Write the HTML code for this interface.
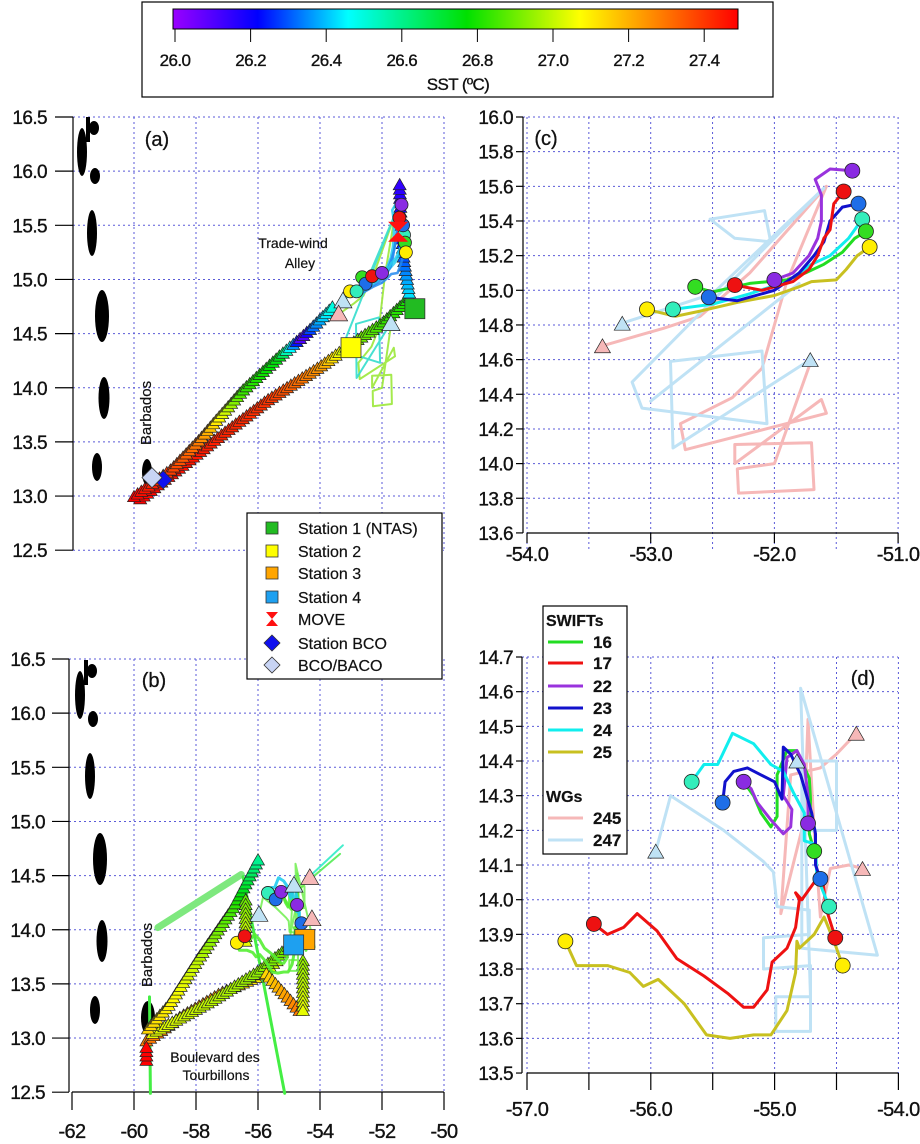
<!DOCTYPE html>
<html><head><meta charset="utf-8">
<style>
html,body{margin:0;padding:0;background:#fff;}
svg{display:block;font-family:"Liberation Sans",Arial,sans-serif;}
.tk{font-size:19px;fill:#111;letter-spacing:-0.6px;stroke:#111;stroke-width:0.35px;}
.lbl{font-size:14px;fill:#111;stroke:#111;stroke-width:0.2px;}
.pl{font-size:20px;fill:#111;stroke:#111;stroke-width:0.3px;}
.lg{font-size:16px;fill:#111;stroke:#111;stroke-width:0.2px;}
</style></head>
<body>
<svg id="fig" width="920" height="1144" viewBox="0 0 920 1144" xmlns="http://www.w3.org/2000/svg">
<defs>
<linearGradient id="sstgrad" x1="0" x2="1" y1="0" y2="0">
<stop offset="0" stop-color="#9a00ff"/><stop offset="0.15" stop-color="#0000ff"/>
<stop offset="0.31" stop-color="#00ffff"/><stop offset="0.52" stop-color="#00e000"/>
<stop offset="0.72" stop-color="#ffff00"/><stop offset="0.86" stop-color="#ff8000"/>
<stop offset="1" stop-color="#ff0000"/>
</linearGradient>
<g id="islands">
<path d="M88,117 L88,142" stroke="#000" stroke-width="4" fill="none"/>
<ellipse cx="82" cy="152" rx="5" ry="24"/>
<ellipse cx="94" cy="128" rx="5" ry="7"/>
<ellipse cx="95" cy="176" rx="5" ry="8"/>
<ellipse cx="92" cy="233" rx="5" ry="23"/>
<ellipse cx="102" cy="316" rx="7" ry="26"/>
<ellipse cx="104" cy="398" rx="5.5" ry="21"/>
<ellipse cx="97" cy="467" rx="5" ry="14"/>
</g>
</defs>
<g id="root"></g>
</svg>
<script>
// ---------- data ----------
const sstTicks = [26.0,26.2,26.4,26.6,26.8,27.0,27.2,27.4];
const latTicksAB = [16.5,16.0,15.5,15.0,14.5,14.0,13.5,13.0,12.5];
const lonTicksAB = [-62,-60,-58,-56,-54,-52,-50];
const latTicksC = [16.0,15.8,15.6,15.4,15.2,15.0,14.8,14.6,14.4,14.2,14.0,13.8,13.6];
const lonTicksC = [-54.0,-53.0,-52.0,-51.0];
const latTicksD = [14.7,14.6,14.5,14.4,14.3,14.2,14.1,14.0,13.9,13.8,13.7,13.6,13.5];
const lonTicksD = [-57.0,-56.0,-55.0,-54.0];

const trkA1Lon = [-60.0,-58.8,-57.9,-57.3,-56.5,-55.3,-54.8,-54.6,-54.3,-53.6];
const trkA1Lat = [13.0,13.25,13.52,13.72,13.98,14.3,14.42,14.47,14.55,14.75];
const trkA1Sst = [27.5,27.4,27.3,27.1,26.85,26.75,26.3,26.05,26.3,26.5];
const trkA2Lon = [-59.8,-57.5,-55.7,-54.0,-53.0,-52.0,-51.1];
const trkA2Lat = [12.98,13.5,13.89,14.2,14.41,14.6,14.84];
const trkA2Sst = [27.5,27.45,27.42,27.25,26.95,26.85,26.8];
const trkA3Lon = [-51.1,-51.3,-51.4,-51.43];
const trkA3Lat = [14.84,15.2,15.6,15.88];
const trkA3Sst = [26.45,26.3,26.2,26.15];
const trkB1Lon = [-59.55,-58.9,-57.9,-56.8,-56.0];
const trkB1Lat = [13.09,13.3,13.75,14.21,14.65];
const trkB1Sst = [27.15,27.1,27.0,26.85,26.6];
const trkB2Lon = [-59.6,-58.5,-57.2,-56.05,-55.4];
const trkB2Lat = [12.98,13.2,13.42,13.57,13.72];
const trkB2Sst = [27.3,27.3,27.25,27.1,27.0];
const trkB3Lon = [-59.4,-57.5,-56.0,-55.0];
const trkB3Lat = [13.05,13.35,13.62,13.85];
const trkB3Sst = [27.05,27.0,26.95,26.9];
const trkB4Lon = [-55.73,-54.66];
const trkB4Lat = [13.6,13.26];
const trkB4Sst = [27.15,27.3];
const trkB5Lon = [-54.55,-54.55];
const trkB5Lat = [13.72,13.26];
const trkB5Sst = [26.95,27.05];
const trkB6Lon = [-56.4,-56.4];
const trkB6Lat = [14.28,13.9];
const trkB6Sst = [26.9,27.05];
const trkB7Lon = [-59.6,-59.6];
const trkB7Lat = [12.8,12.92];
const trkB7Sst = [27.5,27.5];

const c16 = [[-52.64,15.02],[-52.5,14.99],[-52.2,15.04],[-51.9,15.06],[-51.75,15.1],[-51.6,15.15],[-51.45,15.22],[-51.35,15.3],[-51.26,15.34]];
const c17 = [[-52.32,15.03],[-52.1,15.0],[-51.85,15.05],[-51.72,15.12],[-51.65,15.2],[-51.6,15.3],[-51.55,15.35],[-51.52,15.5],[-51.44,15.57]];
const c22 = [[-52.0,15.06],[-51.85,15.1],[-51.72,15.2],[-51.65,15.3],[-51.62,15.4],[-51.62,15.55],[-51.67,15.64],[-51.55,15.7],[-51.37,15.69]];
const c23 = [[-52.53,14.96],[-52.3,14.94],[-52.0,15.0],[-51.8,15.1],[-51.68,15.2],[-51.6,15.28],[-51.55,15.4],[-51.45,15.48],[-51.32,15.5]];
const c24 = [[-52.82,14.89],[-52.5,14.92],[-52.2,14.98],[-51.9,15.05],[-51.7,15.15],[-51.55,15.2],[-51.4,15.3],[-51.29,15.41]];
const c25 = [[-53.03,14.89],[-52.8,14.85],[-52.6,14.88],[-52.3,14.93],[-52.0,14.97],[-51.8,15.02],[-51.7,15.05],[-51.5,15.06],[-51.42,15.12],[-51.33,15.2],[-51.23,15.25]];
const c245 = [[-53.39,14.68],[-52.9,14.78],[-52.6,14.85],[-52.2,15.1],[-51.58,15.6],[-51.9,15.05],[-52.1,14.55],[-52.34,14.38],[-52.76,14.23],[-52.72,14.08],[-51.58,14.29],[-51.62,14.37],[-52.32,14.0],[-52.32,14.11],[-51.70,14.12],[-51.68,13.85],[-52.29,13.83],[-52.30,13.97],[-52.0,14.0],[-51.71,14.58]];
const c247 = [[-53.23,14.81],[-52.5,14.98],[-51.6,15.59],[-53.15,14.47],[-53.07,14.32],[-52.06,14.23],[-52.10,14.65],[-52.84,14.59],[-52.82,14.09],[-51.71,14.6]];
const c247b = [[-53.0,14.36],[-51.8,15.04]];
const c247q = [[-52.52,15.41],[-52.08,15.46],[-52.03,15.28],[-52.32,15.30],[-52.52,15.41]];
const d16 = [[-55.25,14.34],[-55.17,14.3],[-55.11,14.25],[-55.03,14.21],[-54.98,14.24],[-54.98,14.36],[-54.9,14.43],[-54.82,14.43],[-54.72,14.35],[-54.71,14.29],[-54.72,14.19],[-54.68,14.14]];
const d17 = [[-56.46,13.93],[-56.35,13.9],[-56.22,13.92],[-56.11,13.96],[-55.95,13.91],[-55.79,13.83],[-55.57,13.78],[-55.38,13.73],[-55.25,13.69],[-55.17,13.69],[-55.06,13.74],[-55.02,13.82],[-54.9,13.86],[-54.83,13.92],[-54.8,14.0],[-54.83,14.02],[-54.78,14.0],[-54.66,14.06],[-54.61,14.05],[-54.58,13.97],[-54.51,13.89]];
const d22 = [[-55.25,14.34],[-55.19,14.32],[-55.14,14.28],[-55.03,14.23],[-54.93,14.19],[-54.87,14.21],[-54.86,14.26],[-54.93,14.3],[-54.9,14.41],[-54.82,14.43],[-54.76,14.39],[-54.73,14.3],[-54.73,14.22]];
const d23 = [[-55.42,14.28],[-55.40,14.34],[-55.33,14.37],[-55.22,14.38],[-55.11,14.36],[-55.0,14.34],[-54.94,14.29],[-54.93,14.44],[-54.87,14.42],[-54.79,14.36],[-54.7,14.25],[-54.67,14.19],[-54.67,14.1],[-54.63,14.06]];
const d24 = [[-55.67,14.34],[-55.57,14.39],[-55.46,14.39],[-55.34,14.48],[-55.17,14.45],[-55.03,14.39],[-54.93,14.37],[-54.85,14.31],[-54.76,14.25],[-54.76,14.17],[-54.67,14.16],[-54.66,14.07],[-54.56,13.98]];
const d25 = [[-56.69,13.88],[-56.6,13.81],[-56.45,13.81],[-56.35,13.81],[-56.17,13.79],[-56.06,13.75],[-55.94,13.77],[-55.73,13.70],[-55.55,13.61],[-55.36,13.60],[-55.17,13.61],[-55.03,13.61],[-54.9,13.68],[-54.83,13.79],[-54.82,13.88],[-54.8,13.86],[-54.68,13.9],[-54.6,13.95],[-54.52,13.88],[-54.45,13.81]];
const d245 = [[-54.34,14.48],[-54.5,14.42],[-54.63,14.38],[-54.87,14.36],[-54.95,13.96],[-54.76,14.23],[-54.73,14.52],[-54.68,14.2],[-54.63,13.95],[-54.55,14.09],[-54.4,14.1],[-54.29,14.09]];
const d247 = [[-55.96,14.14],[-55.84,14.30],[-55.41,14.20],[-55.09,14.11],[-55.01,14.08],[-54.98,13.98],[-54.72,13.97],[-54.72,13.90],[-55.09,13.89],[-55.09,13.80],[-54.71,13.81],[-54.71,13.62],[-54.99,13.62],[-54.99,13.72],[-54.71,13.72],[-54.79,14.61],[-54.17,13.84],[-54.78,13.86],[-54.78,14.4],[-54.5,14.4],[-54.5,14.2],[-54.78,14.2]];

const stationLon = [-50.94,-53.0];
const stationLat = [14.73,14.37];
const stationB_Lon = [-54.49,-54.85];
const stationB_Lat = [13.91,13.86];

// ---------- helpers ----------
const NS='http://www.w3.org/2000/svg';
const root=document.getElementById('root');
function el(tag,attrs,parent){const e=document.createElementNS(NS,tag);for(const k in attrs)e.setAttribute(k,attrs[k]);(parent||root).appendChild(e);return e;}
function txt(x,y,s,cls,anchor,parent){const t=el('text',{x:x,y:y,class:cls,'text-anchor':anchor||'start'},parent);t.textContent=s;return t;}
const stops=[[26.0,[154,0,255]],[26.22,[0,0,255]],[26.46,[0,255,255]],[26.78,[0,224,0]],[27.08,[255,255,0]],[27.29,[255,128,0]],[27.5,[255,0,0]]];
function cmap(v){if(v<=stops[0][0])return 'rgb('+stops[0][1]+')';for(let i=1;i<stops.length;i++){if(v<=stops[i][0]){const a=stops[i-1],b=stops[i],f=(v-a[0])/(b[0]-a[0]);const c=a[1].map((q,j)=>Math.round(q+(b[1][j]-q)*f));return 'rgb('+c+')';}}return 'rgb(255,0,0)';}

const XA=lon=>134+(lon+60)*31, YA=lat=>117+(16.5-lat)*108.3, YB=lat=>659+(16.5-lat)*108.3;
const XC=lon=>527+(lon+54)*123.7, YC=lat=>117+(16-lat)*173.3;
const XD=lon=>527+(lon+57)*123.8, YD=lat=>657+(14.7-lat)*346.7;

function pathD(pts,X,Y){return pts.map((p,i)=>(i?'L':'M')+X(p[0]).toFixed(1)+','+Y(p[1]).toFixed(1)).join(' ');}
function line(pts,X,Y,color,w,g,name,op){const p=el('path',{d:pathD(pts,X,Y),fill:'none',stroke:color,'stroke-width':w,'stroke-linejoin':'round','stroke-linecap':'round',opacity:op||1},g);


return p;}
function tri(x,y,s,fill,g,name){const h=s*0.87;const p=el('polygon',{points:(x-s/2)+','+(y+h/2)+' '+(x+s/2)+','+(y+h/2)+' '+x+','+(y-h/2),fill:fill,stroke:'#222','stroke-width':0.7},g);


return p;}
function circ(x,y,r,fill,g,name){const c=el('circle',{cx:x,cy:y,r:r,fill:fill,stroke:'#222','stroke-width':0.8},g);


return c;}
function sq(x,y,s,fill,g,name){const r=el('rect',{x:x-s/2,y:y-s/2,width:s,height:s,fill:fill,stroke:'#333','stroke-width':0.8},g);


return r;}
function diamond(x,y,s,fill,g,name){const p=el('polygon',{points:x+','+(y-s)+' '+(x+s)+','+y+' '+x+','+(y+s)+' '+(x-s)+','+y,fill:fill,stroke:'#333','stroke-width':0.8},g);


return p;}
function shipTrack(lons,lats,ssts,X,Y,g,name){
 const px=lons.map((l,i)=>[X(l),Y(lats[i])]);
 let segs=[],tot=0;for(let i=1;i<px.length;i++){const d=Math.hypot(px[i][0]-px[i-1][0],px[i][1]-px[i-1][1]);segs.push(d);tot+=d;}
 const n=Math.max(2,Math.round(tot/4.5));
 for(let k=0;k<=n;k++){let t=tot*k/n,i=0;while(i<segs.length-1&&t>segs[i]){t-=segs[i];i++;}const f=segs[i]?Math.min(1,t/segs[i]):0;
  const x=px[i][0]+(px[i+1][0]-px[i][0])*f,y=px[i][1]+(px[i+1][1]-px[i][1])*f,s=ssts[i]+(ssts[i+1]-ssts[i])*f;
  tri(x,y,13,cmap(s),g,name+'-marker');}
}
function grid(xs,ys,x0,x1,y0,y1,g){
 xs.forEach(x=>el('line',{x1:x,x2:x,y1:y0,y2:y1,stroke:'#5a5ad8','stroke-width':1,'stroke-dasharray':'2,3'},g));
 ys.forEach(y=>el('line',{x1:x0,x2:x1,y1:y,y2:y,stroke:'#5a5ad8','stroke-width':1,'stroke-dasharray':'2,3'},g));
}
const SW={16:'#22dd22',17:'#ee1111',22:'#9933dd',23:'#1111cc',24:'#11eeee',25:'#c8c020'};
const CF={p:'#8a2be2',r:'#ee1111',b:'#1e6ee8',t:'#33eebb',g:'#33dd22',y:'#ffee00'};
const PINK='#f6b8b8', LBLUE='#bfe2f5';

// ---------- colorbar ----------
const cb=el('g',{});


el('rect',{x:142,y:2,width:631,height:95,fill:'#fff',stroke:'#000','stroke-width':1.2},cb);
el('rect',{x:173,y:9,width:565,height:20,fill:'url(#sstgrad)',stroke:'#000','stroke-width':1},cb);
sstTicks.forEach(v=>{const x=175+(v-26)/0.2*75.6;el('line',{x1:x,x2:x,y1:29,y2:42,stroke:'#000','stroke-width':1},cb);txt(x,66,v.toFixed(1),'tk','middle',cb).setAttribute('style','font-size:17px');});
txt(458,90,'SST (ºC)','tk','middle',cb).setAttribute('style','font-size:17px');

// ---------- panel a ----------
const ga=el('g',{});


grid(lonTicksAB.slice(1).map(XA),latTicksAB.map(YA),73,444,117,552,ga);
el('use',{href:'#islands'},ga);
el('ellipse',{cx:147,cy:472,rx:5,ry:13,fill:'#000'},ga);
el('line',{x1:73,x2:73,y1:117,y2:550,stroke:'#000','stroke-width':1.2},ga);
latTicksAB.forEach(v=>{const y=YA(v);el('line',{x1:55,x2:73,y1:y,y2:y,stroke:'#000','stroke-width':1.2},ga);txt(47,y+7,v.toFixed(1),'tk','end',ga);});
line(c245,XA,YA,'#9be83a',2,ga,'wg245-track-a',0.9);
line(c247,XA,YA,'#33ddcc',2,ga,'wg247-track-a',0.9);
shipTrack(trkA2Lon,trkA2Lat,trkA2Sst,XA,YA,ga,'ship-track-lower');
shipTrack(trkA1Lon,trkA1Lat,trkA1Sst,XA,YA,ga,'ship-track-upper');
shipTrack(trkA3Lon,trkA3Lat,trkA3Sst,XA,YA,ga,'ship-track-north');
[c16,c17,c22,c23,c24,c25].forEach((t,i)=>line(t,XA,YA,i%2?'#2288ee':'#22ccee',2.5,ga,'swift-track-a',0.85));
[[-52.64,15.02,'g'],[-52.53,14.96,'b'],[-52.32,15.03,'r'],[-52.0,15.06,'p'],[-53.03,14.89,'y'],[-52.82,14.89,'t'],[-51.29,15.41,'t'],[-51.26,15.34,'g'],[-51.23,15.25,'y'],[-51.32,15.5,'b'],[-51.44,15.57,'r'],[-51.37,15.69,'p']].forEach(c=>circ(XA(c[0]),YA(c[1]),6.5,CF[c[2]],ga,'swift-position'));
(function(){const x=XA(-51.48),y=YA(15.44);const p=el('polygon',{points:(x-10)+','+(y-10)+' '+(x+10)+','+(y-10)+' '+(x-10)+','+(y+10)+' '+(x+10)+','+(y+10),fill:'#ff1010'},ga);

})();
tri(XA(-53.26),YA(14.81),18,LBLUE,ga,'wg247-start');
tri(XA(-53.4),YA(14.69),18,PINK,ga,'wg245-start');
tri(XA(-51.71),YA(14.6),18,LBLUE,ga,'wg247-end');
sq(XA(stationLon[0]),YA(stationLat[0]),20,'#22bb22',ga,'station-1-marker');
sq(XA(stationLon[1]),YA(stationLat[1]),20,'#ffff00',ga,'station-2-marker');
diamond(XA(-59.06),YA(13.15),9,'#1010ee',ga,'station-bco-marker');
diamond(XA(-59.42),YA(13.17),10,'#c8d4f4',ga,'bco-baco-marker');
txt(157,146,'(a)','pl','middle',ga);
txt(293,248,'Trade-wind','lbl','middle',ga);
txt(300,268,'Alley','lbl','middle',ga);
(function(){const t=txt(0,0,'Barbados','lbl','middle',ga);t.setAttribute('transform','translate(151,413) rotate(-90)');t.setAttribute('style','font-size:15px');})();

// ---------- panel b ----------
const gb=el('g',{});


grid(lonTicksAB.slice(1).map(XA),latTicksAB.slice(0,-1).map(YB),69,444,659,1092,gb);
el('use',{href:'#islands',transform:'translate(-2,543)'},gb);
el('ellipse',{cx:148,cy:1018,rx:7,ry:17,fill:'#000'},gb);
el('line',{x1:69,x2:69,y1:659,y2:1092,stroke:'#000','stroke-width':1.2},gb);
el('line',{x1:72,x2:444,y1:1092,y2:1092,stroke:'#000','stroke-width':1.2},gb);
latTicksAB.forEach(v=>{const y=YB(v);el('line',{x1:52,x2:69,y1:y,y2:y,stroke:'#000','stroke-width':1.2},gb);txt(45,y+7,v.toFixed(1),'tk','end',gb);});
lonTicksAB.forEach(v=>{const x=XA(v);el('line',{x1:x,x2:x,y1:1092,y2:1110,stroke:'#000','stroke-width':1.2},gb);txt(x,1138,String(v),'tk','middle',gb).setAttribute('style','font-size:20px');});
line([[-59.23,14.02],[-56.54,14.51]],XA,YB,'#7ee87e',7,gb,'green-streak-1');
line([[-56.48,14.49],[-55.14,12.49]],XA,YB,'#44ee44',3,gb,'green-streak-2');
line([[-59.5,13.38],[-59.47,12.49]],XA,YB,'#44ee44',3,gb,'green-streak-3');
line([[-54.23,14.52],[-53.26,14.78]],XA,YB,'#44eecc',2,gb,'cyan-streak-1');
line([[-54.3,14.47],[-53.35,14.7]],XA,YB,'#66ee66',2,gb,'cyan-streak-2');
shipTrack(trkB2Lon,trkB2Lat,trkB2Sst,XA,YB,gb,'ship-track-b2');
shipTrack(trkB3Lon,trkB3Lat,trkB3Sst,XA,YB,gb,'ship-track-b3');
shipTrack(trkB1Lon,trkB1Lat,trkB1Sst,XA,YB,gb,'ship-track-b1');
shipTrack(trkB4Lon,trkB4Lat,trkB4Sst,XA,YB,gb,'ship-track-b4');
shipTrack(trkB5Lon,trkB5Lat,trkB5Sst,XA,YB,gb,'ship-track-b5');
shipTrack(trkB6Lon,trkB6Lat,trkB6Sst,XA,YB,gb,'ship-track-b6');
shipTrack(trkB7Lon,trkB7Lat,trkB7Sst,XA,YB,gb,'ship-track-b7');
[d245,d247].forEach(t=>line(t,XA,YB,'#66ee44',2,gb,'wg-track-b',0.8));
[d16,d17,d22,d25].forEach(t=>line(t,XA,YB,'#55ee33',3,gb,'swift-track-b',0.9));
[d23,d24].forEach(t=>line(t,XA,YB,'#22ccee',3,gb,'swift-track-b',0.9));
[[-55.68,14.34,'t'],[-55.43,14.28,'b'],[-55.25,14.35,'p'],[-54.74,14.23,'p'],[-54.6,14.06,'b'],[-56.68,13.88,'y'],[-56.43,13.94,'r']].forEach(c=>circ(XA(c[0]),YB(c[1]),6.5,CF[c[2]],gb,'swift-position-b'));
sq(XA(stationB_Lon[0]),YB(stationB_Lat[0]),20,'#ffa500',gb,'station-3-marker');
sq(XA(stationB_Lon[1]),YB(stationB_Lat[1]),20,'#1ea0f0',gb,'station-4-marker');
tri(XA(-54.84),YB(14.42),18,LBLUE,gb,'wg247-b');
tri(XA(-55.97),YB(14.15),18,LBLUE,gb,'wg247-b2');
tri(XA(-54.33),YB(14.49),18,PINK,gb,'wg245-b');
tri(XA(-54.26),YB(14.11),18,PINK,gb,'wg245-b2');
txt(154,687,'(b)','pl','middle',gb);
(function(){const t=txt(0,0,'Barbados','lbl','middle',gb);t.setAttribute('transform','translate(152,955) rotate(-90)');t.setAttribute('style','font-size:15px');})();
txt(215,1062,'Boulevard des','lbl','middle',gb);
txt(216,1080,'Tourbillons','lbl','middle',gb);

const lgA=el('g',{});


el('rect',{x:247,y:513,width:195,height:166,fill:'#fff',stroke:'#000','stroke-width':1.2},lgA);
const legItems=[['Station 1 (NTAS)','#22bb22','sq'],['Station 2','#ffff00','sq'],['Station 3','#ffa500','sq'],['Station 4','#1ea0f0','sq'],['MOVE','#ff1010','hg'],['Station BCO','#1010ee','dm'],['BCO/BACO','#c8d4f4','dm']];
const legY=[528,551,573,597,619,643,665];
legItems.forEach((it,i)=>{const y=legY[i],x=272;
 if(it[2]==='sq')sq(x,y,12,it[1],lgA,'legend-swatch');
 else if(it[2]==='dm')diamond(x,y,8,it[1],lgA,'legend-swatch');
 else el('polygon',{points:(x-6)+','+(y-7)+' '+(x+6)+','+(y-7)+' '+(x-6)+','+(y+7)+' '+(x+6)+','+(y+7),fill:it[1]},lgA);
 txt(298,y+6,it[0],'lg','start',lgA);});

// ---------- panel c ----------
const gc=el('g',{});


const cgx=[];for(let v=-54;v<=-51.001+0.01;v+=0.5)cgx.push(XC(v));
grid(cgx,latTicksC.slice(0,-1).map(YC),523,898,117,550,gc);
el('line',{x1:523,x2:523,y1:117,y2:533,stroke:'#000','stroke-width':1.2},gc);
el('line',{x1:527,x2:898,y1:533,y2:533,stroke:'#000','stroke-width':1.2},gc);
latTicksC.forEach(v=>{const y=YC(v);el('line',{x1:516,x2:523,y1:y,y2:y,stroke:'#000','stroke-width':1.2},gc);txt(513,y+7,v.toFixed(1),'tk','end',gc);});
lonTicksC.forEach(v=>{const x=XC(v);el('line',{x1:x,x2:x,y1:533,y2:543,stroke:'#000','stroke-width':1.2},gc);txt(x,561,v.toFixed(1),'tk','middle',gc).setAttribute('style','font-size:20px');});
line(c245,XC,YC,PINK,3,gc,'wg245-track-c');
line(c247,XC,YC,LBLUE,3,gc,'wg247-track-c');
line(c247b,XC,YC,LBLUE,3,gc,'wg247-track-c2');
line(c247q,XC,YC,LBLUE,3,gc,'wg247-track-c3');
line(c25,XC,YC,SW[25],3,gc,'swift25-track-c');
line(c24,XC,YC,SW[24],3,gc,'swift24-track-c');
line(c16,XC,YC,SW[16],3,gc,'swift16-track-c');
line(c23,XC,YC,SW[23],3,gc,'swift23-track-c');
line(c17,XC,YC,SW[17],3,gc,'swift17-track-c');
line(c22,XC,YC,SW[22],3,gc,'swift22-track-c');
[[-52.64,15.02,'g'],[-52.53,14.96,'b'],[-52.32,15.03,'r'],[-52.0,15.06,'p'],[-53.03,14.89,'y'],[-52.82,14.89,'t'],[-51.37,15.69,'p'],[-51.44,15.57,'r'],[-51.32,15.5,'b'],[-51.29,15.41,'t'],[-51.26,15.34,'g'],[-51.23,15.25,'y']].forEach(c=>circ(XC(c[0]),YC(c[1]),7.5,CF[c[2]],gc,'swift-position-c'));
tri(XC(-53.23),YC(14.81),16,LBLUE,gc,'wg247-start-c');
tri(XC(-53.39),YC(14.68),16,PINK,gc,'wg245-start-c');
tri(XC(-51.71),YC(14.6),16,LBLUE,gc,'wg247-end-c');
txt(546,145,'(c)','pl','middle',gc);

// ---------- panel d ----------
const gd=el('g',{});


const dgx=[];for(let v=-57;v<=-54+0.01;v+=0.5)dgx.push(XD(v));
grid(dgx,latTicksD.slice(0,-1).map(YD),522,898,657,1073,gd);
el('line',{x1:522,x2:522,y1:657,y2:1073,stroke:'#000','stroke-width':1.2},gd);
el('line',{x1:527,x2:898,y1:1073,y2:1073,stroke:'#000','stroke-width':1.2},gd);
latTicksD.forEach(v=>{const y=YD(v);el('line',{x1:516,x2:522,y1:y,y2:y,stroke:'#000','stroke-width':1.2},gd);txt(513,y+7,v.toFixed(1),'tk','end',gd);});
dgx.forEach(x=>el('line',{x1:x,x2:x,y1:1073,y2:1090,stroke:'#000','stroke-width':1.2},gd));
lonTicksD.forEach(v=>{txt(XD(v),1116,v.toFixed(1),'tk','middle',gd).setAttribute('style','font-size:20px');});
line(d245,XD,YD,PINK,3,gd,'wg245-track-d');
line(d247,XD,YD,LBLUE,3,gd,'wg247-track-d');
line(d25,XD,YD,SW[25],3,gd,'swift25-track-d');
line(d17,XD,YD,SW[17],3,gd,'swift17-track-d');
line(d16,XD,YD,SW[16],3,gd,'swift16-track-d');
line(d22,XD,YD,SW[22],3,gd,'swift22-track-d');
line(d24,XD,YD,SW[24],3,gd,'swift24-track-d');
line(d23,XD,YD,SW[23],3,gd,'swift23-track-d');
[[-55.67,14.34,'t'],[-55.42,14.28,'b'],[-55.25,14.34,'p'],[-54.73,14.22,'p'],[-54.68,14.14,'g'],[-54.63,14.06,'b'],[-54.56,13.98,'t'],[-54.51,13.89,'r'],[-54.45,13.81,'y'],[-56.46,13.93,'r'],[-56.69,13.88,'y']].forEach(c=>circ(XD(c[0]),YD(c[1]),7.5,CF[c[2]],gd,'swift-position-d'));
tri(XD(-55.96),YD(14.14),16,LBLUE,gd,'wg247-d');
tri(XD(-54.82),YD(14.4),16,LBLUE,gd,'wg247-d2');
tri(XD(-54.34),YD(14.48),16,PINK,gd,'wg245-d');
tri(XD(-54.29),YD(14.09),16,PINK,gd,'wg245-d2');
txt(863,685,'(d)','pl','middle',gd);

const lgD=el('g',{});


el('rect',{x:543,y:606,width:84,height:248,fill:'#fff',stroke:'#000','stroke-width':1.2},lgD);
txt(546,626,'SWIFTs','lg','start',lgD).setAttribute('style','font-size:16px;font-weight:bold');
const swIds=[16,17,22,23,24,25], swY=[642,663,686,708,730,752];
swIds.forEach((id,i)=>{el('line',{x1:548,x2:583,y1:swY[i],y2:swY[i],stroke:SW[id],'stroke-width':3},lgD);txt(593,swY[i]+6,String(id),'lg','start',lgD).setAttribute('style','font-size:17px;font-weight:bold');});
txt(546,802,'WGs','lg','start',lgD).setAttribute('style','font-size:16px;font-weight:bold');
[['245',PINK,818],['247',LBLUE,840]].forEach(w=>{el('line',{x1:548,x2:583,y1:w[2],y2:w[2],stroke:w[1],'stroke-width':3},lgD);txt(593,w[2]+6,w[0],'lg','start',lgD).setAttribute('style','font-size:17px;font-weight:bold');});
</script>
</body></html>
